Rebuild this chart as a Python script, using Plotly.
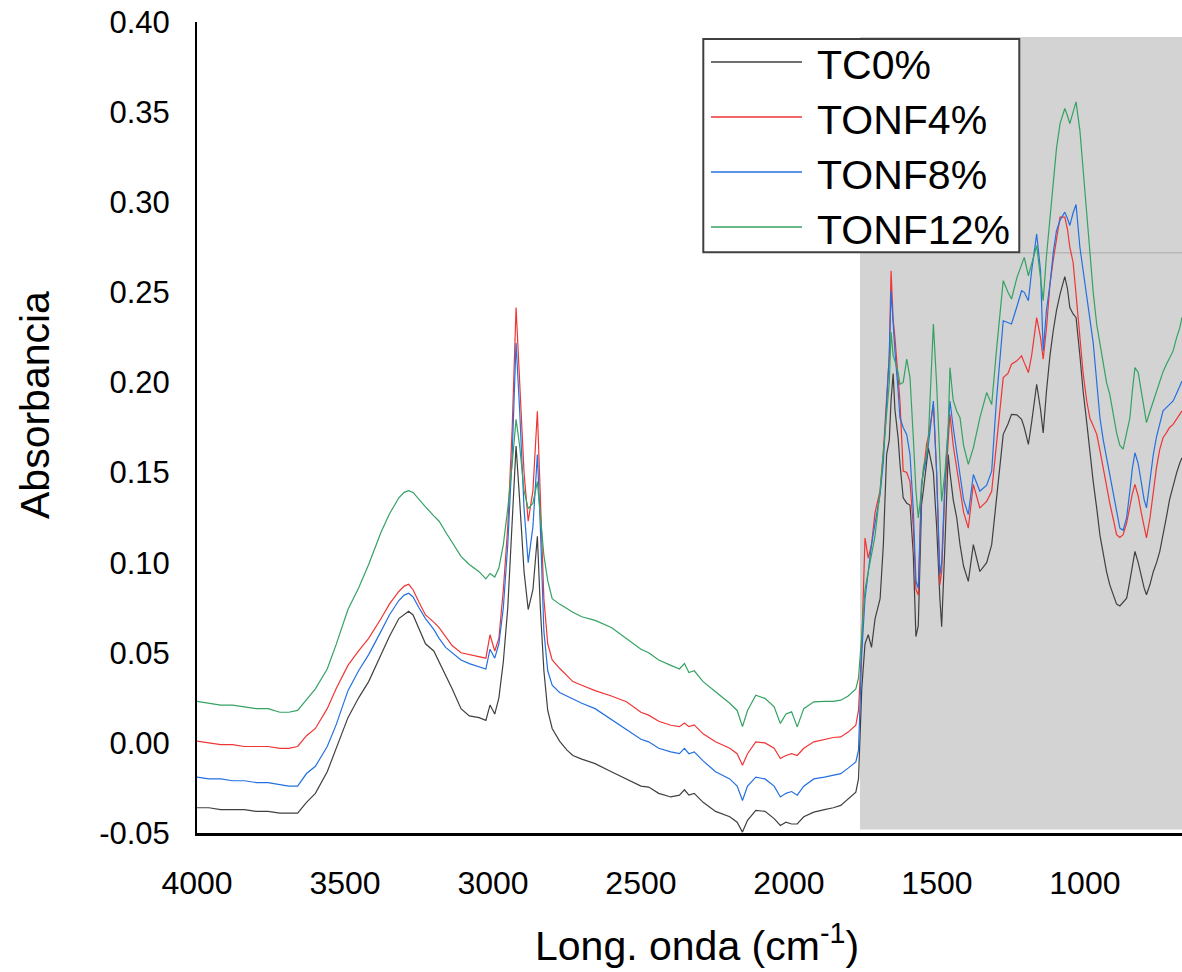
import plotly.graph_objects as go

# ---------------- data ----------------
wavenumber = [
    4000, 3960, 3920, 3880, 3840, 3800, 3760, 3720, 3690, 3660,
    3630, 3600, 3560, 3530, 3490, 3454, 3420, 3378, 3350, 3318,
    3300, 3285, 3270, 3250, 3228, 3200, 3182, 3160, 3138, 3108,
    3080, 3047, 3024, 3010, 2994, 2980, 2965, 2950, 2935, 2922,
    2910, 2895, 2881, 2865, 2850, 2840, 2828, 2815, 2800, 2775,
    2750, 2730, 2700, 2655, 2600, 2549, 2500, 2474, 2440, 2399,
    2370, 2353, 2338, 2320, 2290, 2248, 2200, 2175, 2157, 2140,
    2112, 2081, 2050, 2029, 2010, 1991, 1972, 1950, 1916, 1880,
    1850, 1825, 1800, 1774, 1765, 1754, 1743, 1732, 1721, 1709,
    1692, 1681, 1670, 1661, 1655, 1648, 1642, 1631, 1625, 1614,
    1602, 1591, 1580, 1571, 1563, 1552, 1546, 1535, 1529, 1512,
    1501, 1490, 1484, 1473, 1462, 1456, 1445, 1433, 1422, 1410,
    1394, 1377, 1355, 1332, 1315, 1299, 1276, 1260, 1248, 1230,
    1214, 1205, 1191, 1180, 1163, 1150, 1141, 1130, 1118, 1107,
    1096, 1084, 1068, 1059, 1051, 1040, 1030, 1017, 1006, 994,
    983, 972, 960, 949, 938, 927, 916, 904, 893, 882,
    871, 859, 848, 840, 831, 820, 810, 800, 792, 780,
    769, 758, 747, 736, 725, 714, 702, 690, 680, 672,
]

tc0 = [
    -0.036, -0.036, -0.037, -0.037, -0.037, -0.038, -0.038, -0.039, -0.039, -0.039,
    -0.033, -0.028, -0.016, -0.003, 0.014, 0.025, 0.034, 0.049, 0.059, 0.069,
    0.071, 0.073, 0.071, 0.063, 0.055, 0.051, 0.045, 0.037, 0.030, 0.019,
    0.015, 0.014, 0.0125, 0.021, 0.016, 0.025, 0.045, 0.075, 0.120, 0.1647,
    0.135, 0.095, 0.074, 0.085, 0.1146, 0.075, 0.040, 0.018, 0.008, 0.001,
    -0.004, -0.007, -0.009, -0.0115, -0.016, -0.020, -0.024, -0.0245, -0.028, -0.030,
    -0.029, -0.026, -0.029, -0.028, -0.033, -0.038, -0.041, -0.044, -0.0495, -0.043,
    -0.0374, -0.038, -0.042, -0.0458, -0.044, -0.045, -0.045, -0.041, -0.0384, -0.037,
    -0.036, -0.0347, -0.031, -0.0273, -0.020, 0.030, 0.055, 0.060, 0.053, 0.069,
    0.080, 0.110, 0.160, 0.168, 0.190, 0.205, 0.185, 0.169, 0.155, 0.136,
    0.133, 0.132, 0.105, 0.059, 0.065, 0.1322, 0.140, 0.155, 0.1637, 0.150,
    0.120, 0.080, 0.0645, 0.110, 0.160, 0.150, 0.135, 0.1248, 0.110, 0.098,
    0.0896, 0.110, 0.0951, 0.100, 0.110, 0.135, 0.1712, 0.177, 0.1823, 0.182,
    0.1795, 0.175, 0.1656, 0.178, 0.199, 0.185, 0.172, 0.195, 0.215, 0.2287,
    0.240, 0.249, 0.2587, 0.252, 0.2416, 0.238, 0.2361, 0.215, 0.195, 0.178,
    0.160, 0.145, 0.130, 0.115, 0.105, 0.095, 0.0877, 0.082, 0.077, 0.076,
    0.078, 0.0803, 0.090, 0.098, 0.1063, 0.100, 0.092, 0.086, 0.0822, 0.088,
    0.095, 0.100, 0.1063, 0.115, 0.125, 0.135, 0.1434, 0.150, 0.155, 0.1582,
]

tonf4 = [
    0.001, 0.000, -0.001, -0.001, -0.002, -0.002, -0.002, -0.003, -0.003, -0.002,
    0.004, 0.008, 0.019, 0.030, 0.043, 0.051, 0.058, 0.069, 0.077, 0.084,
    0.087, 0.088, 0.085, 0.078, 0.071, 0.067, 0.064, 0.059, 0.054, 0.050,
    0.049, 0.048, 0.047, 0.060, 0.051, 0.058, 0.085, 0.120, 0.175, 0.2416,
    0.200, 0.150, 0.123, 0.140, 0.184, 0.140, 0.080, 0.055, 0.046, 0.0414,
    0.037, 0.034, 0.032, 0.029, 0.026, 0.0228, 0.017, 0.0154, 0.012, 0.0098,
    0.009, 0.011, 0.009, 0.010, 0.005, 0.0006, -0.003, -0.006, -0.0124, -0.006,
    0.0006, 0.000, -0.003, -0.0087, -0.007, -0.006, -0.007, -0.003, 0.0006, 0.002,
    0.003, 0.0033, 0.006, 0.0098, 0.018, 0.0545, 0.1137, 0.1025, 0.110, 0.128,
    0.140, 0.162, 0.190, 0.215, 0.262, 0.235, 0.225, 0.200, 0.1897, 0.1508,
    0.150, 0.145, 0.120, 0.085, 0.082, 0.1434, 0.150, 0.1656, 0.170, 0.1879,
    0.150, 0.0877, 0.095, 0.140, 0.170, 0.1823, 0.165, 0.1526, 0.140, 0.128,
    0.1192, 0.1434, 0.1304, 0.134, 0.1396, 0.165, 0.2027, 0.205, 0.2101, 0.212,
    0.2147, 0.211, 0.2055, 0.215, 0.236, 0.225, 0.2129, 0.230, 0.2546, 0.268,
    0.280, 0.2917, 0.2917, 0.285, 0.275, 0.2667, 0.249, 0.2249, 0.205, 0.1897,
    0.180, 0.176, 0.1712, 0.162, 0.152, 0.1415, 0.133, 0.124, 0.1155, 0.114,
    0.1155, 0.122, 0.132, 0.138, 0.1434, 0.137, 0.128, 0.119, 0.1137, 0.125,
    0.140, 0.153, 0.163, 0.1693, 0.172, 0.175, 0.1767, 0.180, 0.182, 0.1842,
]

tonf8 = [
    -0.019, -0.020, -0.020, -0.021, -0.021, -0.022, -0.022, -0.023, -0.024, -0.024,
    -0.017, -0.013, -0.002, 0.010, 0.029, 0.040, 0.049, 0.062, 0.071, 0.079,
    0.082, 0.083, 0.081, 0.075, 0.069, 0.063, 0.058, 0.053, 0.050, 0.046,
    0.044, 0.042, 0.041, 0.052, 0.047, 0.055, 0.075, 0.110, 0.160, 0.222,
    0.185, 0.130, 0.100, 0.120, 0.160, 0.120, 0.062, 0.040, 0.032, 0.028,
    0.026, 0.024, 0.022, 0.019, 0.013, 0.007, 0.002, 0.0006, -0.003, -0.005,
    -0.006, -0.003, -0.006, -0.005, -0.010, -0.016, -0.020, -0.024, -0.032, -0.024,
    -0.019, -0.020, -0.024, -0.030, -0.028, -0.027, -0.029, -0.024, -0.020, -0.019,
    -0.018, -0.0171, -0.014, -0.0106, -0.004, 0.050, 0.080, 0.095, 0.110, 0.122,
    0.138, 0.156, 0.185, 0.215, 0.251, 0.230, 0.2175, 0.195, 0.1804, 0.175,
    0.171, 0.160, 0.130, 0.090, 0.0858, 0.1434, 0.150, 0.1582, 0.165, 0.1897,
    0.150, 0.0933, 0.100, 0.145, 0.175, 0.1897, 0.175, 0.1619, 0.150, 0.135,
    0.1267, 0.1489, 0.1396, 0.143, 0.1508, 0.190, 0.2342, 0.233, 0.2324, 0.242,
    0.2509, 0.250, 0.2453, 0.262, 0.2824, 0.262, 0.2175, 0.240, 0.2546, 0.272,
    0.2843, 0.290, 0.2945, 0.291, 0.2871, 0.294, 0.2987, 0.275, 0.262, 0.2472,
    0.236, 0.222, 0.200, 0.180, 0.168, 0.1582, 0.148, 0.138, 0.128, 0.1192,
    0.118, 0.125, 0.140, 0.152, 0.161, 0.155, 0.145, 0.135, 0.1304, 0.145,
    0.160, 0.170, 0.178, 0.1842, 0.186, 0.188, 0.1897, 0.194, 0.198, 0.2008,
]

tonf12 = [
    0.023, 0.022, 0.021, 0.021, 0.020, 0.019, 0.019, 0.017, 0.017, 0.018,
    0.024, 0.030, 0.041, 0.0545, 0.074, 0.086, 0.099, 0.117, 0.127, 0.136,
    0.139, 0.140, 0.139, 0.135, 0.131, 0.126, 0.123, 0.117, 0.111, 0.1035,
    0.099, 0.095, 0.091, 0.094, 0.092, 0.097, 0.110, 0.130, 0.155, 0.1795,
    0.165, 0.140, 0.130, 0.133, 0.145, 0.125, 0.104, 0.090, 0.080, 0.077,
    0.0745, 0.0725, 0.070, 0.068, 0.064, 0.058, 0.052, 0.050, 0.046, 0.043,
    0.041, 0.044, 0.039, 0.040, 0.034, 0.0284, 0.022, 0.018, 0.009, 0.018,
    0.0265, 0.0247, 0.020, 0.0108, 0.016, 0.0172, 0.0089, 0.019, 0.0228, 0.023,
    0.023, 0.0237, 0.026, 0.030, 0.036, 0.060, 0.085, 0.095, 0.105, 0.115,
    0.140, 0.160, 0.180, 0.200, 0.228, 0.215, 0.212, 0.205, 0.199, 0.200,
    0.213, 0.2027, 0.170, 0.140, 0.1248, 0.140, 0.1526, 0.160, 0.169, 0.2324,
    0.199, 0.150, 0.134, 0.150, 0.175, 0.2082, 0.190, 0.184, 0.1804, 0.165,
    0.1545, 0.1637, 0.1804, 0.1944, 0.1877, 0.2175, 0.2565, 0.250, 0.2463, 0.258,
    0.266, 0.2694, 0.2592, 0.266, 0.276, 0.258, 0.2453, 0.270, 0.290, 0.3121,
    0.330, 0.3436, 0.352, 0.348, 0.3436, 0.350, 0.3557, 0.3399, 0.318, 0.295,
    0.275, 0.250, 0.232, 0.222, 0.210, 0.200, 0.1934, 0.182, 0.172, 0.165,
    0.163, 0.172, 0.1804, 0.195, 0.2082, 0.2055, 0.195, 0.185, 0.1777, 0.184,
    0.1897, 0.195, 0.200, 0.206, 0.210, 0.214, 0.2175, 0.225, 0.230, 0.236,
]

series_names = ["TC0%", "TONF4%", "TONF8%", "TONF12%"]
series_values = [tc0, tonf4, tonf8, tonf12]
series_colors = ["#404040", "#f03535", "#2470e0", "#34a263"]

x_tick_values = [4000, 3500, 3000, 2500, 2000, 1500, 1000]
x_tick_labels = ["4000", "3500", "3000", "2500", "2000", "1500", "1000"]
y_tick_values = [-0.05, 0.00, 0.05, 0.10, 0.15, 0.20, 0.25, 0.30, 0.35, 0.40]
y_tick_labels = ["-0.05", "0.00", "0.05", "0.10", "0.15", "0.20", "0.25", "0.30", "0.35", "0.40"]

x_title = "Long. onda (cm<sup>-1</sup>)"
y_title = "Absorbancia"

# highlighted band (fingerprint region) in data units
band_start, band_end = 1760, 672
band_bottom, band_top = -0.048, 0.3917

FONT = "Liberation Sans, Arial, sans-serif"

fig = go.Figure()
for name, vals, col in zip(series_names, series_values, series_colors):
    fig.add_trace(go.Scatter(
        x=wavenumber, y=vals, mode="lines", name=name,
        line=dict(color=col, width=1.2), showlegend=False,
    ))

shapes = [
    dict(type="rect", xref="x", yref="y", x0=band_start, x1=band_end,
         y0=band_bottom, y1=band_top, fillcolor="#d3d3d3",
         line=dict(width=0), layer="below"),
    dict(type="line", xref="x", yref="y", x0=1223, x1=band_end,
         y0=0.2719, y1=0.2719, line=dict(color="#a8a8a8", width=1),
         layer="below"),
]

# legend box drawn in paper coordinates
shapes.append(dict(type="rect", xref="paper", yref="paper",
                   x0=0.514, x1=0.8348, y0=0.716, y1=0.979,
                   fillcolor="white", line=dict(color="#404040", width=2),
                   layer="above"))
row_line_y = [0.9507, 0.8829, 0.8150, 0.7472]
annotations = []
for name, col, ly in zip(series_names, series_colors, row_line_y):
    shapes.append(dict(type="line", xref="paper", yref="paper",
                       x0=0.5218, x1=0.6142, y0=ly, y1=ly,
                       line=dict(color=col, width=1.5), layer="above"))
    annotations.append(dict(xref="paper", yref="paper", x=0.6274, y=ly - 0.004,
                            xanchor="left", yanchor="middle", text=name,
                            showarrow=False,
                            font=dict(family=FONT, size=41, color="black")))

annotations.append(dict(xref="paper", yref="paper", x=-0.1645, y=0.5277,
                        xanchor="center", yanchor="middle", text=y_title,
                        textangle=-90, showarrow=False,
                        font=dict(family=FONT, size=41, color="black")))
annotations.append(dict(xref="paper", yref="paper", x=0.5076, y=-0.1356,
                        xanchor="center", yanchor="middle", text=x_title,
                        showarrow=False,
                        font=dict(family=FONT, size=41, color="black")))

fig.update_layout(
    width=1182, height=972,
    margin=dict(l=197, r=0, t=22, b=139, pad=0),
    paper_bgcolor="white", plot_bgcolor="white",
    shapes=shapes, annotations=annotations,
    font=dict(family=FONT, color="black"),
    showlegend=False,
)
fig.update_xaxes(
    range=[4000, 672], tickvals=x_tick_values, ticktext=x_tick_labels,
    showgrid=False, zeroline=False, showline=True, linecolor="black",
    linewidth=3, ticks="", tickfont=dict(family=FONT, size=32, color="black"),
    ticklabelstandoff=20,
)
fig.update_yaxes(
    range=[-0.05, 0.40], tickvals=y_tick_values, ticktext=y_tick_labels,
    showgrid=False, zeroline=False, showline=True, linecolor="black",
    linewidth=2, ticks="", tickfont=dict(family=FONT, size=31, color="black"),
    ticklabelstandoff=19,
)

fig.write_html("out.html")
